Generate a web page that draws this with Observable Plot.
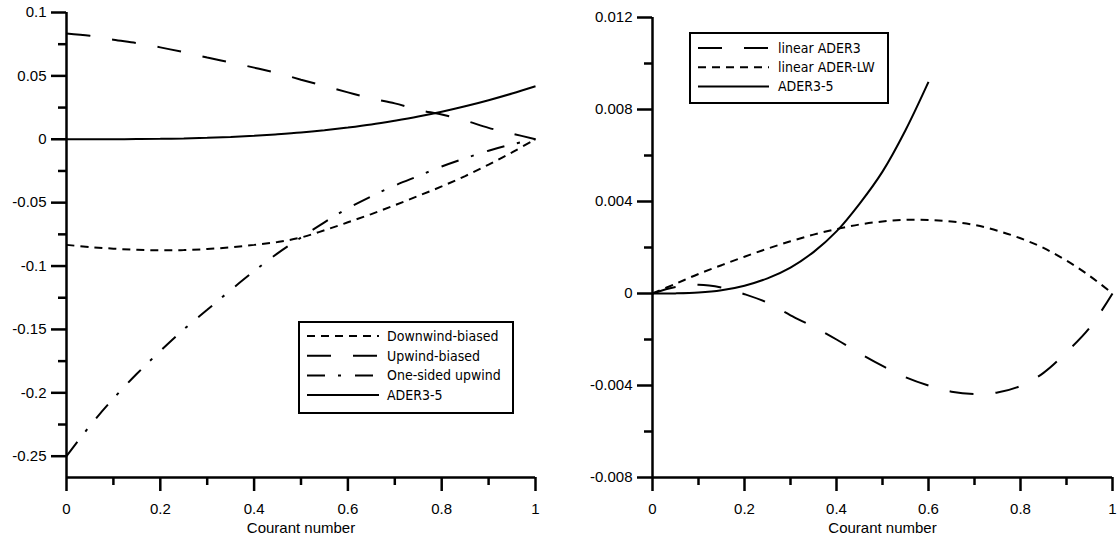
<!DOCTYPE html>
<html><head><meta charset="utf-8">
<script src="https://cdn.jsdelivr.net/npm/d3@7"></script>
<script src="https://cdn.jsdelivr.net/npm/@observablehq/plot@0.6"></script>
<style>
body{margin:0;background:#fff;}
#wrap{position:relative;width:1120px;height:542px;overflow:hidden;background:#fff;}
#left,#right{position:absolute;top:0;}
#left{left:0}
#right{left:560px}
#legends{position:absolute;left:0;top:0;pointer-events:none;}
</style></head><body>
<div id="wrap"><div id="left"></div><div id="right"></div><svg id="legends" width="1120" height="542"></svg></div>
<script>
// Courant numbers at which the curves were read
const courant = [0,0.05,0.1,0.15,0.2,0.25,0.3,0.35,0.4,0.45,0.5,0.55,0.6,0.65,0.7,0.75,0.8,0.85,0.9,0.95,1];

// Left panel series
const downwindBiased = [-0.0833,-0.0850,-0.0863,-0.0872,-0.0876,-0.0874,-0.0866,-0.0852,-0.0833,-0.0810,-0.0775,-0.0718,-0.0655,-0.0590,-0.0520,-0.0447,-0.0372,-0.0290,-0.0200,-0.0103,0];
const upwindBiased = [0.0835,0.0816,0.0785,0.0758,0.0725,0.0687,0.0645,0.0606,0.0565,0.0522,0.0470,0.0420,0.0370,0.0322,0.0283,0.0232,0.0195,0.0148,0.0090,0.0045,0];
const oneSidedUpwind = [-0.2500,-0.2260,-0.2045,-0.1850,-0.1670,-0.1500,-0.1345,-0.1190,-0.1040,-0.0900,-0.0775,-0.0655,-0.0545,-0.0450,-0.0365,-0.0290,-0.0215,-0.0150,-0.0090,-0.0040,0];
const ader35 = [0,0.000005,0.00004,0.00014,0.00034,0.00066,0.00113,0.0018,0.0027,0.0039,0.0053,0.0071,0.0092,0.0116,0.0146,0.0179,0.0217,0.0260,0.0308,0.0361,0.0418];

// Right panel series
const linearAder3 = [0,0.00028,0.00038,0.00026,-0.00003,-0.0004,-0.00095,-0.00145,-0.002,-0.0026,-0.00315,-0.00364,-0.004,-0.00427,-0.00437,-0.0043,-0.00402,-0.00345,-0.00255,-0.0015,0];
const linearAderLW = [0,0.00042,0.00085,0.00123,0.0016,0.00195,0.00227,0.00256,0.0028,0.003,0.00313,0.0032,0.0032,0.00313,0.00298,0.00273,0.0024,0.00198,0.00143,0.00077,0];
const ader35RightMaxC = 0.6;

// Ticks
const leftYTicks = [0.1,0.05,0,-0.05,-0.1,-0.15,-0.2,-0.25];
const leftYMinor = [0.075,0.025,-0.025,-0.075,-0.125,-0.175,-0.225];
const rightYTicks = [0.012,0.008,0.004,0,-0.004,-0.008];
const rightYMinor = [0.01,0.006,0.002,-0.002,-0.006];
const xTicks = [0,0.2,0.4,0.6,0.8,1];
const xMinor = [0.1,0.3,0.5,0.7,0.9];
const xLabel = "Courant number";

const leftSeries = [
  {name:"Downwind-biased", values:downwindBiased, dash:"8,6"},
  {name:"Upwind-biased", values:upwindBiased, dash:"24,22"},
  {name:"One-sided upwind", values:oneSidedUpwind, dash:"18,13,3,14"},
  {name:"ADER3-5", values:ader35, dash:null}
];
const rightSeries = [
  {name:"linear ADER3", values:linearAder3, dash:"24,22"},
  {name:"linear ADER-LW", values:linearAderLW, dash:"8,6"},
  {name:"ADER3-5", values:ader35, dash:null, maxC:ader35RightMaxC}
];

const AXW = 2.5;
const FS = 15;
function chart(cfg){
  const marks = [];
  for (const s of cfg.series){
    let rows = courant.map((c,i)=>({c, v:s.values[i]}));
    if (s.maxC != null) rows = rows.filter(r=>r.c <= s.maxC + 1e-9);
    marks.push(Plot.line(rows, {x:"c", y:"v", stroke:"#000", strokeWidth:2, curve:"catmull-rom",
      strokeDasharray: s.dash || undefined, strokeLinecap:"butt", strokeLinejoin:"miter"}));
  }
  return Plot.plot({
    width:560, height:542,
    marginLeft:cfg.ml, marginRight:cfg.mr, marginTop:cfg.mt, marginBottom:65,
    x:{domain:[0,1]},
    y:{domain:cfg.ydomain},
    style:{fontFamily:"'Liberation Sans', Arial, sans-serif", fontSize:FS+"px", color:"#000", background:"#fff", overflow:"visible"},
    marks:[
      Plot.axisY({ticks:cfg.yTicks, tickSize:15, tickPadding:5, tickFormat:d=>String(d), strokeWidth:AXW, label:null, fontSize:FS}),
      Plot.axisY({ticks:cfg.yMinor, tickSize:8, text:null, strokeWidth:AXW, label:null}),
      Plot.axisX({ticks:xTicks, tickSize:14, tickPadding:12, tickFormat:d=>String(d), strokeWidth:AXW, label:null, fontSize:FS}),
      Plot.axisX({ticks:xMinor, tickSize:8, text:null, strokeWidth:AXW, label:null}),
      ...marks,
      Plot.ruleX([0], {strokeWidth:AXW, stroke:"#000"}),
      Plot.ruleY([cfg.ydomain[0]], {strokeWidth:AXW, stroke:"#000"}),
      Plot.text([xLabel], {frameAnchor:"bottom", dy:55, fontSize:FS, fill:"#000"})
    ]
  });
}

document.getElementById("left").append(chart({
  series:leftSeries, ml:66, mr:25, mt:12, ydomain:[-0.2668,0.1], yTicks:leftYTicks, yMinor:leftYMinor
}));
document.getElementById("right").append(chart({
  series:rightSeries, ml:92, mr:8, mt:17, ydomain:[-0.008,0.012], yTicks:rightYTicks, yMinor:rightYMinor
}));

// Legends
const lg = d3.select("#legends");
function legend(series, box){
  lg.append("rect").attr("x",box.x).attr("y",box.y).attr("width",box.w).attr("height",box.h)
    .attr("fill","#fff").attr("stroke","#000").attr("stroke-width",2);
  series.forEach((s,i)=>{
    const y = box.y0 + i*box.dy;
    lg.append("line").attr("x1",box.sx0).attr("x2",box.sx1).attr("y1",y).attr("y2",y)
      .attr("stroke","#000").attr("stroke-width",2).attr("stroke-dasharray",s.dash||null);
    lg.append("text").attr("x",box.tx).attr("y",y).attr("dy","0.36em")
      .style("font-family","'DejaVu Sans Condensed','DejaVu Sans',sans-serif").style("font-stretch","condensed")
      .style("font-size","14px").attr("fill","#000").text(s.name);
  });
}
legend(leftSeries, {x:299,y:322,w:214,h:91,y0:336,dy:19.7,sx0:307,sx1:379,tx:387});
legend(rightSeries, {x:690,y:33,w:198,h:70,y0:48,dy:19.2,sx0:698,sx1:769,tx:778});
</script>
</body></html>
